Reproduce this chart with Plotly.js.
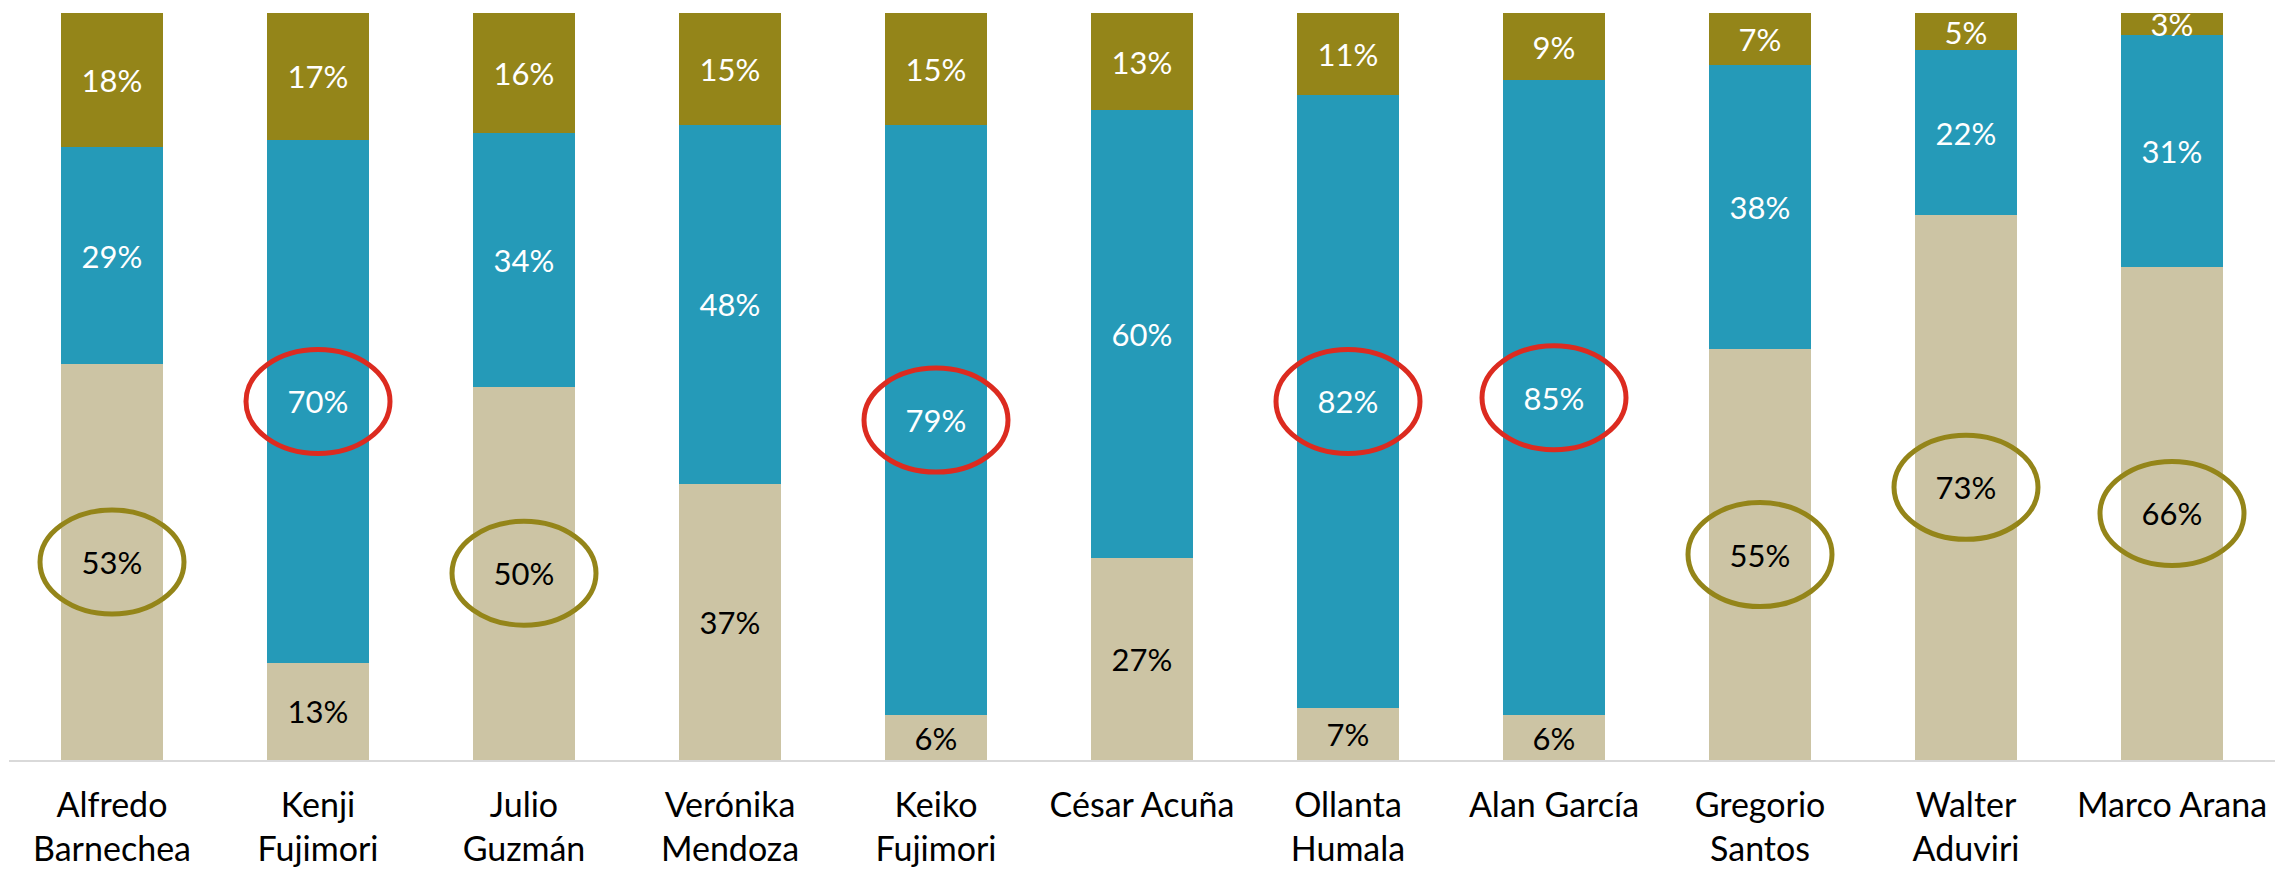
<!DOCTYPE html>
<html>
<head>
<meta charset="utf-8">
<script src="https://cdn.plot.ly/plotly-3.0.1.min.js"></script>
<style>html,body{margin:0;padding:0;background:#fff;}#chart{width:2275px;height:872px;}</style>
</head>
<body>
<div id="chart"></div>
<script>
const candidates = ["Alfredo<br>Barnechea","Kenji<br>Fujimori","Julio<br>Guzmán","Verónika<br>Mendoza","Keiko<br>Fujimori","César Acuña","Ollanta<br>Humala","Alan García","Gregorio<br>Santos","Walter<br>Aduviri","Marco Arana"];
const beigeValues = [53,13,50,37,6,27,7,6,55,73,66];
const blueValues  = [29,70,34,48,79,60,82,85,38,22,31];
const oliveValues = [18,17,16,15,15,13,11,9,7,5,3];
const redHighlights = ["Kenji<br>Fujimori","Keiko<br>Fujimori","Ollanta<br>Humala","Alan García"];
const oliveHighlights = ["Alfredo<br>Barnechea","Julio<br>Guzmán","Gregorio<br>Santos","Walter<br>Aduviri","Marco Arana"];

const FONT = "Lato, 'Open Sans', sans-serif";
const pct = a => a.map(v => v + "%");

function seg(y, color, textColor) {
  return {
    type: "bar", x: candidates, y: y,
    marker: {color: color, line: {width: 0}},
    text: pct(y), textposition: "inside", insidetextanchor: "middle",
    textangle: 0, constraintext: "none", cliponaxis: false,
    textfont: {family: FONT, size: 31, color: textColor},
    hoverinfo: "skip"
  };
}

const traces = [
  seg(beigeValues, "#CCC4A4", "#000000"),
  seg(blueValues, "#259AB8", "#FFFFFF"),
  seg(oliveValues, "#948519", "#FFFFFF")
];

const shapes = [];
function ring(name, yc, color) {
  shapes.push({
    type: "circle", xref: "x", yref: "y",
    xsizemode: "pixel", ysizemode: "pixel",
    xanchor: candidates.indexOf(name), yanchor: yc,
    x0: -72, x1: 72, y0: -52, y1: 52,
    line: {color: color, width: 5}, fillcolor: "rgba(0,0,0,0)"
  });
}
redHighlights.forEach(n => {
  const i = candidates.indexOf(n);
  ring(n, beigeValues[i] + blueValues[i] / 2, "#DC2B20");
});
oliveHighlights.forEach(n => {
  const i = candidates.indexOf(n);
  ring(n, beigeValues[i] / 2, "#948519");
});

const layout = {
  width: 2275, height: 872,
  margin: {l: 9, r: 0, t: 13, b: 112, pad: 0},
  barmode: "stack", bargap: 0.507,
  showlegend: false,
  paper_bgcolor: "#FFFFFF", plot_bgcolor: "#FFFFFF",
  font: {family: FONT, color: "#000000"},
  xaxis: {
    type: "category", showline: true, linecolor: "#D9D9D9", linewidth: 2,
    ticks: "", showgrid: false, zeroline: false, fixedrange: true,
    ticklabelstandoff: 14,
    tickfont: {family: FONT, size: 34, color: "#000000"}
  },
  yaxis: {range: [0, 100], visible: false, fixedrange: true},
  shapes: shapes
};

Plotly.newPlot("chart", traces, layout, {displayModeBar: false, staticPlot: true});
</script>
</body>
</html>
